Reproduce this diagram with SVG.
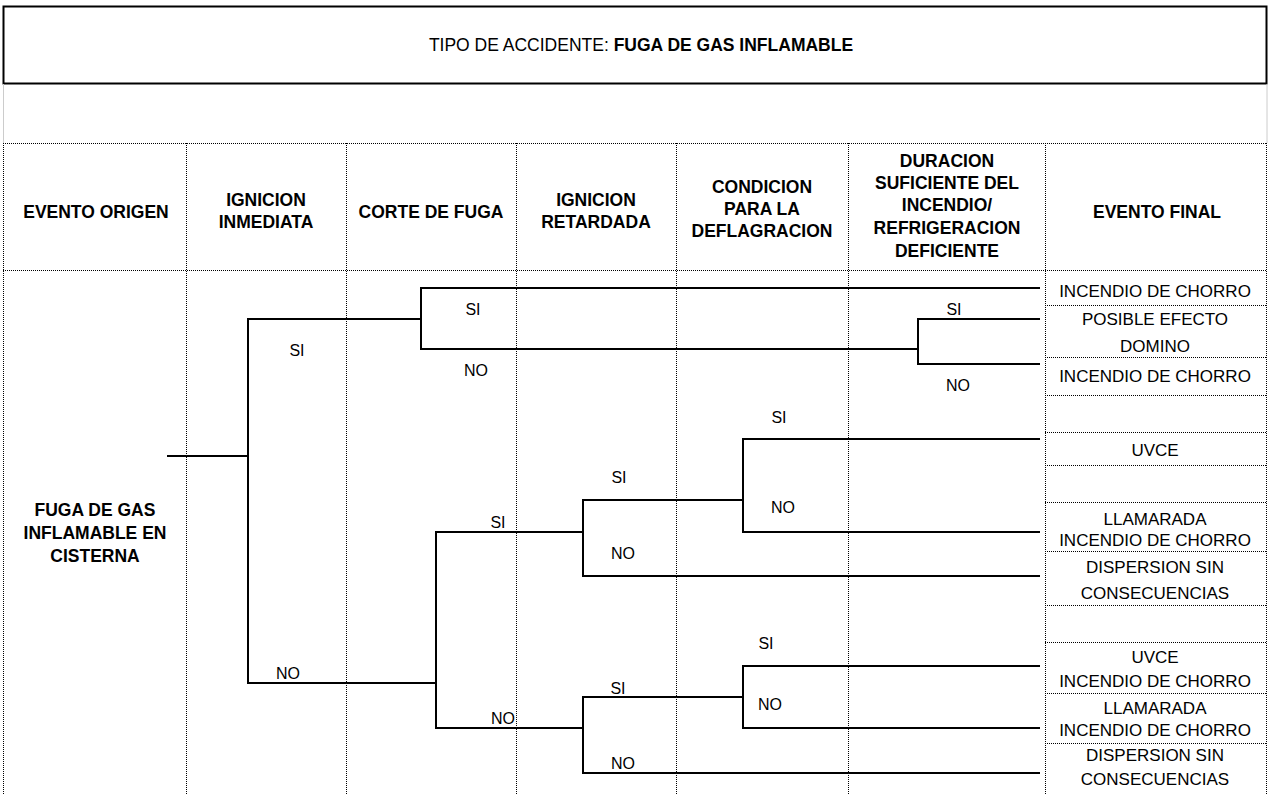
<svg xmlns="http://www.w3.org/2000/svg" width="1268" height="794" viewBox="0 0 1268 794">
<style>
.t{font-family:"Liberation Sans",Arial,sans-serif;font-size:17px;fill:#000;text-anchor:middle}
.h{font-family:"Liberation Sans",Arial,sans-serif;font-size:17.5px;fill:#000;text-anchor:middle}
.b{font-family:"Liberation Sans",Arial,sans-serif;font-size:17.5px;font-weight:bold;fill:#000;text-anchor:middle}
.l{font-family:"Liberation Sans",Arial,sans-serif;font-size:16px;fill:#000;text-anchor:middle}
.dot{stroke:#000;stroke-width:1;stroke-dasharray:1 1;fill:none}
.c{stroke:#000;stroke-width:2;fill:none}
</style>
<rect x="0" y="0" width="1268" height="794" fill="#fff"/>
<g id="title">
<rect x="3.5" y="6.5" width="1263" height="77" fill="none" stroke="#000" stroke-width="2"/>
<text class="h" x="641" y="51"><tspan>TIPO DE ACCIDENTE: </tspan><tspan font-weight="bold">FUGA DE GAS INFLAMABLE</tspan></text>
<line x1="3.5" y1="84" x2="3.5" y2="143" stroke="#ccc"/>
<line x1="1267" y1="84" x2="1267" y2="143" stroke="#ccc"/>
</g>
<g id="grid">
<line class="dot" x1="3" y1="143.5" x2="1267" y2="143.5"/>
<line class="dot" x1="3" y1="270.5" x2="1267" y2="270.5"/>
<line class="dot" x1="3.5" y1="143" x2="3.5" y2="794"/>
<line class="dot" x1="186.5" y1="143" x2="186.5" y2="794"/>
<line class="dot" x1="346.5" y1="143" x2="346.5" y2="794"/>
<line class="dot" x1="516.5" y1="143" x2="516.5" y2="794"/>
<line class="dot" x1="676.5" y1="143" x2="676.5" y2="794"/>
<line class="dot" x1="848.5" y1="143" x2="848.5" y2="794"/>
<line class="dot" x1="1045.5" y1="143" x2="1045.5" y2="794"/>
<line class="dot" x1="1266.5" y1="143" x2="1266.5" y2="794"/>
</g>
<g id="header-evento-origen"><text class="b" x="96" y="218">EVENTO ORIGEN</text></g>
<g id="header-ignicion-inmediata"><text class="b" x="266" y="206">IGNICION</text><text class="b" x="266" y="228">INMEDIATA</text></g>
<g id="header-corte-fuga"><text class="b" x="431" y="218">CORTE DE FUGA</text></g>
<g id="header-ignicion-retardada"><text class="b" x="596" y="206">IGNICION</text><text class="b" x="596" y="228">RETARDADA</text></g>
<g id="header-condicion"><text class="b" x="762" y="193">CONDICION</text><text class="b" x="762" y="215">PARA LA</text><text class="b" x="762" y="237">DEFLAGRACION</text></g>
<g id="header-duracion"><text class="b" x="947" y="167">DURACION</text><text class="b" x="947" y="189">SUFICIENTE DEL</text><text class="b" x="947" y="211">INCENDIO/</text><text class="b" x="947" y="234">REFRIGERACION</text><text class="b" x="947" y="257">DEFICIENTE</text></g>
<g id="header-evento-final"><text class="b" x="1157" y="218">EVENTO FINAL</text></g>
<g id="origen"><text class="b" x="95" y="516">FUGA DE GAS</text><text class="b" x="95" y="539">INFLAMABLE EN</text><text class="b" x="95" y="562">CISTERNA</text></g>
<g id="final-events">
<line class="dot" x1="1045" y1="305.5" x2="1267" y2="305.5"/>
<line class="dot" x1="1045" y1="357.5" x2="1267" y2="357.5"/>
<line class="dot" x1="1045" y1="395.5" x2="1267" y2="395.5"/>
<line class="dot" x1="1045" y1="432.5" x2="1267" y2="432.5"/>
<line class="dot" x1="1045" y1="465.5" x2="1267" y2="465.5"/>
<line class="dot" x1="1045" y1="502.5" x2="1267" y2="502.5"/>
<line class="dot" x1="1045" y1="551.5" x2="1267" y2="551.5"/>
<line class="dot" x1="1045" y1="605.5" x2="1267" y2="605.5"/>
<line class="dot" x1="1045" y1="642.5" x2="1267" y2="642.5"/>
<line class="dot" x1="1045" y1="693.5" x2="1267" y2="693.5"/>
<line class="dot" x1="1045" y1="743.5" x2="1267" y2="743.5"/>
<g id="fe1"><text class="t" x="1155" y="297">INCENDIO DE CHORRO</text></g>
<g id="fe2"><text class="t" x="1155" y="325">POSIBLE EFECTO</text><text class="t" x="1155" y="352">DOMINO</text></g>
<g id="fe3"><text class="t" x="1155" y="382">INCENDIO DE CHORRO</text></g>
<g id="fe4"><text class="t" x="1155" y="456">UVCE</text></g>
<g id="fe5"><text class="t" x="1155" y="525">LLAMARADA</text><text class="t" x="1155" y="546">INCENDIO DE CHORRO</text></g>
<g id="fe6"><text class="t" x="1155" y="573">DISPERSION SIN</text><text class="t" x="1155" y="599">CONSECUENCIAS</text></g>
<g id="fe7"><text class="t" x="1155" y="663">UVCE</text><text class="t" x="1155" y="687">INCENDIO DE CHORRO</text></g>
<g id="fe8"><text class="t" x="1155" y="714">LLAMARADA</text><text class="t" x="1155" y="736">INCENDIO DE CHORRO</text></g>
<g id="fe9"><text class="t" x="1155" y="761">DISPERSION SIN</text><text class="t" x="1155" y="785">CONSECUENCIAS</text></g>
</g>
<g id="connectors">
<polyline class="c" points="167,456 248,456"/>
<polyline class="c" points="421,319 248,319 248,683 436,683"/>
<polyline class="c" points="1040,288 421,288 421,349 918,349"/>
<polyline class="c" points="1040,319 918,319 918,364 1040,364"/>
<polyline class="c" points="583,532 436,532 436,728 583,728"/>
<polyline class="c" points="743,500 583,500 583,576 1040,576"/>
<polyline class="c" points="1040,439 743,439 743,532 1040,532"/>
<polyline class="c" points="743,697 583,697 583,773 1040,773"/>
<polyline class="c" points="1040,666 743,666 743,728 1040,728"/>
</g>
<g id="labels">
<text class="l" x="297" y="356">SI</text>
<text class="l" x="288" y="679">NO</text>
<text class="l" x="473" y="315">SI</text>
<text class="l" x="476" y="376">NO</text>
<text class="l" x="954" y="315">SI</text>
<text class="l" x="958" y="391">NO</text>
<text class="l" x="779" y="423">SI</text>
<text class="l" x="783" y="513">NO</text>
<text class="l" x="619" y="483">SI</text>
<text class="l" x="623" y="559">NO</text>
<text class="l" x="498" y="528">SI</text>
<text class="l" x="503" y="724">NO</text>
<text class="l" x="766" y="649">SI</text>
<text class="l" x="770" y="710">NO</text>
<text class="l" x="618" y="694">SI</text>
<text class="l" x="623" y="769">NO</text>
</g>
</svg>
